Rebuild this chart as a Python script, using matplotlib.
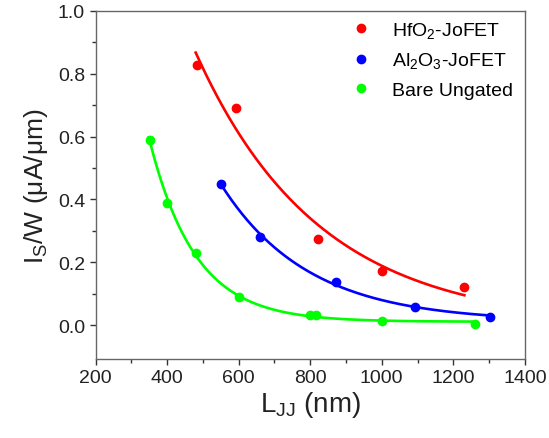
import numpy as np
import matplotlib
matplotlib.use('Agg')
import matplotlib.pyplot as plt

plt.rcParams['font.family'] = ['Liberation Sans', 'DejaVu Sans']
plt.rcParams['mathtext.fontset'] = 'custom'
plt.rcParams['mathtext.rm'] = 'Liberation Sans'
plt.rcParams['mathtext.it'] = 'Liberation Sans'

# data
hfo2_L = [483, 592, 822, 1001, 1231]
hfo2_I = [0.828, 0.692, 0.275, 0.171, 0.120]

al2o3_L = [552, 661, 872, 1092, 1302]
al2o3_I = [0.449, 0.279, 0.136, 0.058, 0.027]

bare_L = [352, 401, 481, 602, 800, 816, 1000, 1262]
bare_I = [0.590, 0.388, 0.228, 0.090, 0.033, 0.033, 0.012, 0.002]

labels = ['HfO$_2$-JoFET', 'Al$_2$O$_3$-JoFET', 'Bare Ungated']
colors = ['#ff0000', '#0000ff', '#00ff00']


def exp_fit(x, y):
    # y = y0 + A*exp(-x/t), grid search on t, linear least squares for y0, A
    x = np.asarray(x, float)
    y = np.asarray(y, float)
    best = None
    for t in np.linspace(30, 2000, 4000):
        M = np.column_stack([np.ones_like(x), np.exp(-x / t)])
        coef, *_ = np.linalg.lstsq(M, y, rcond=None)
        err = np.sum((M @ coef - y) ** 2)
        if best is None or err < best[0]:
            best = (err, t, coef)
    _, t, (y0, A) = best
    return lambda xx: y0 + A * np.exp(-xx / t)


fig = plt.figure(figsize=(5.49, 4.39), dpi=100)
ax = fig.add_axes([0.174, 0.180, 0.782, 0.793])

series = [(hfo2_L, hfo2_I), (al2o3_L, al2o3_I), (bare_L, bare_I)]
for (L, I), lab, c in zip(series, labels, colors):
    f = exp_fit(L, I)
    xx = np.linspace(min(L) - 3, max(L), 200)
    ax.plot(xx, f(xx), color=c, lw=1.9, zorder=2)
    ax.plot(L, I, 'o', color=c, ms=6, label=lab, zorder=3, linestyle='none')

ax.set_xlim(200, 1400)
ax.set_ylim(-0.108, 1.0)
ax.set_xticks(np.arange(200, 1401, 200))
ax.set_xticks(np.arange(300, 1400, 200), minor=True)
ax.set_yticks(np.arange(0, 1.01, 0.2))
ax.set_yticks(np.arange(0.1, 1.0, 0.2), minor=True)
ax.yaxis.set_major_formatter(matplotlib.ticker.FormatStrFormatter('%.1f'))

ax.tick_params(which='both', direction='out', colors='#333333', labelcolor='#222222')
ax.tick_params(which='major', length=4, width=1, labelsize=14)
ax.tick_params(which='minor', length=3, width=1)
for s in ax.spines.values():
    s.set_color('#666666')
    s.set_linewidth(1.0)

ax.set_xlabel('L$_{\\mathrm{JJ}}$ (nm)', fontsize=20, color='#222222', labelpad=2)
ax.set_ylabel('I$_{\\mathrm{S}}$/W (\u03bcA/\u03bcm)', fontsize=19, color='#222222', labelpad=6)

ax.legend(loc='upper right', frameon=False, fontsize=14, handletextpad=0.8,
          borderaxespad=0.0, labelspacing=0.55, handlelength=1.6,
          bbox_to_anchor=(0.99, 0.997))

fig.savefig('out.png', dpi=100)
